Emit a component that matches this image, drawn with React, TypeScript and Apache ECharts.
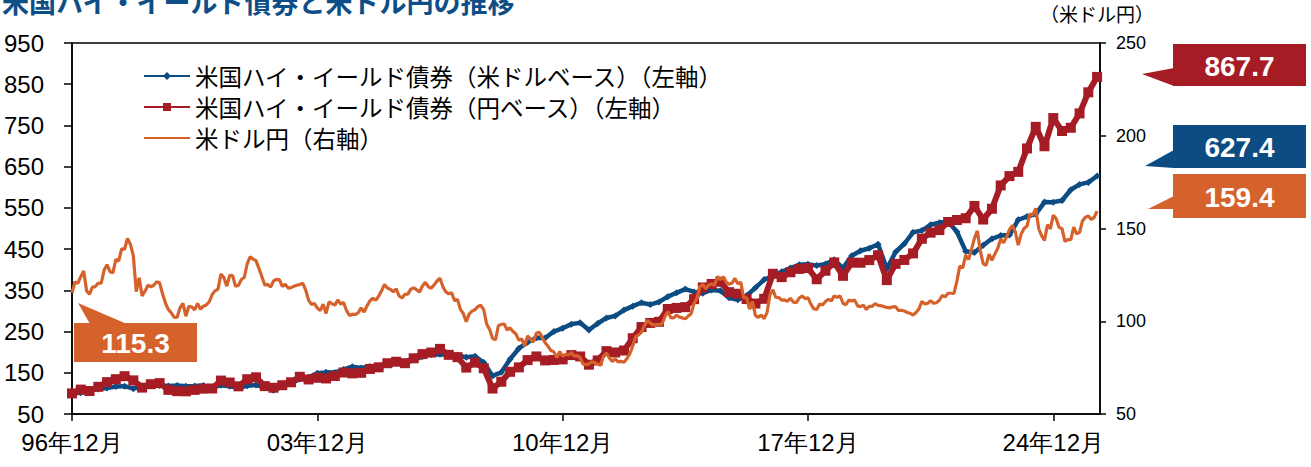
import React, { useEffect, useRef } from "react";
import * as echarts from "echarts";

const titleText = "米国ハイ・イールド債券と米ドル円の推移";
const seriesNames = [
  "米国ハイ・イールド債券（米ドルベース）（左軸）",
  "米国ハイ・イールド債券（円ベース）（左軸）",
  "米ドル円（右軸）",
];
const rightAxisName = "（米ドル円）";
const xTickMonths = [0, 84, 168, 252, 336];
const xTickLabels = ["96年12月", "03年12月", "10年12月", "17年12月", "24年12月"];
const leftTicks = [50, 150, 250, 350, 450, 550, 650, 750, 850, 950];
const rightTicks = [50, 100, 150, 200, 250];

// quarterly, Dec 1996 .. Mar 2026 (month offset = 3 * index)
const hyUsd = [
  100, 101.5, 106.5, 110.5, 112.9,
  116.5, 117.5, 111.5, 116.3,
  118.5, 119, 118, 119.2,
  117.5, 118, 119, 113.2,
  120, 117.5, 113.5, 118.3,
  120.5, 113.5, 107.5, 116.1,
  124, 135, 139, 148.6,
  151, 150.5, 158, 164.8,
  161.5, 165.5, 166.5, 169.2,
  173.5, 174.5, 181, 189.2,
  194.5, 195, 194, 193.4,
  187.5, 190, 175, 142.3,
  151, 183, 209, 224.1,
  235, 234.5, 250, 258.2,
  268, 271.5, 254, 269.5,
  283, 288, 302, 311.6,
  320, 315.5, 322, 334.6,
  344, 353, 346, 343,
  351, 349, 332, 327.2,
  337, 356, 376, 384.5,
  395, 404, 412, 413.3,
  410, 414, 424, 403.8,
  434, 446, 452, 462,
  402, 443, 463, 490.6,
  495, 509, 514, 517.1,
  492, 445, 442, 459.2,
  475, 483, 484, 521.2,
  529, 535, 564, 563.9,
  568, 594, 607, 611.8,
  627.4,
];

const hyJpy = [
  100, 109.2, 105.8, 116.0, 127.3,
  134.4, 141.7, 131.5, 114.0,
  122.3, 124.9, 108.5, 105.4,
  105.0, 108.5, 111.5, 111.9,
  131.1, 126.4, 117.1, 134.4,
  139.0, 117.6, 113.7, 119.8,
  126.9, 140.3, 133.8, 137.9,
  136.2, 142.3, 150.7, 148.6,
  149.9, 159.3, 163.2, 173.2,
  176.8, 173.3, 185.2, 195.3,
  199.1, 208.0, 193.5, 187.9,
  162.6, 174.7, 160.9, 111.8,
  128.3, 152.4, 163.1, 180.8,
  189.6, 180.0, 181.1, 182.5,
  192.9, 189.6, 169.6, 180.0,
  202.5, 199.3, 204.0, 233.8,
  260.9, 270.9, 273.7, 304.7,
  307.3, 309.2, 328.6, 357.0,
  365.3, 370.8, 345.5, 341.7,
  328.8, 318.0, 329.4, 390.2,
  382.0, 393.8, 402.0, 404.0,
  376.9, 397.5, 417.7, 385.2,
  417.1, 417.0, 423.4, 435.2,
  374.8, 414.2, 423.7, 439.5,
  475.2, 490.0, 496.2, 515.8,
  520.6, 524.9, 554.7, 521.8,
  547.9, 604.5, 627.1, 637.4,
  694.2, 746.6, 699.5, 767.9,
  736.5, 744.4, 779.2, 830.4,
  867.7,
];

// monthly, Dec 1996 .. Mar 2026
const usdjpy = [
  115.3,
  121.2, 120.4, 124.0, 127.1, 116.4, 114.6, 118.4, 118.7, 120.6, 120.5, 127.6, 130.5,
  126.7, 126.1, 133.3, 132.5, 139.0, 138.8, 144.7, 141.4, 135.3, 116.0, 123.4, 113.6,
  116.2, 119.4, 118.6, 119.4, 121.3, 120.7, 114.8, 109.8, 106.3, 104.5, 102.1, 102.2,
  107.3, 109.6, 102.7, 108.1, 107.7, 106.1, 109.6, 106.5, 108.1, 108.8, 110.5, 114.4,
  116.4, 117.3, 125.5, 123.6, 118.9, 124.7, 124.6, 118.8, 119.4, 122.5, 123.7, 131.0,
  134.7, 133.5, 132.7, 128.5, 124.1, 119.5, 119.9, 118.4, 121.7, 122.6, 122.4, 118.8,
  119.9, 117.9, 118.1, 118.9, 119.4, 119.8, 120.5, 116.9, 111.4, 109.1, 109.6, 107.1,
  105.8, 109.2, 104.2, 110.4, 109.5, 108.7, 111.5, 109.3, 110.1, 105.8, 103.1, 103.8,
  103.6, 104.6, 107.2, 104.9, 108.2, 110.9, 112.4, 111.3, 113.5, 116.4, 119.8, 117.9,
  117.2, 115.9, 117.5, 113.6, 112.6, 114.5, 114.6, 117.3, 118.0, 117.0, 115.8, 119.0,
  121.0, 118.6, 117.8, 119.6, 121.7, 123.2, 118.6, 115.8, 114.8, 115.3, 111.1, 111.7,
  106.4, 104.1, 99.7, 104.0, 105.5, 106.2, 108.0, 108.6, 106.1, 98.4, 95.5, 90.8,
  89.9, 97.6, 98.3, 98.5, 95.3, 96.4, 94.5, 93.1, 89.8, 90.5, 86.6, 92.1,
  90.3, 88.8, 93.5, 94.1, 91.3, 88.4, 86.5, 84.2, 83.5, 80.4, 83.7, 81.2,
  82.1, 81.8, 83.1, 81.2, 81.5, 80.4, 76.9, 76.7, 77.0, 78.2, 77.6, 76.9,
  76.3, 81.2, 82.9, 80.2, 78.3, 79.8, 78.1, 78.4, 77.9, 79.8, 82.5, 86.6,
  91.7, 92.6, 94.2, 97.5, 100.5, 99.1, 97.9, 98.2, 98.3, 98.4, 102.4, 105.3,
  102.0, 101.8, 103.2, 102.2, 101.8, 101.3, 102.8, 104.1, 109.7, 112.3, 118.6, 119.8,
  117.5, 119.6, 120.1, 119.4, 124.1, 122.4, 123.9, 121.2, 119.9, 120.6, 123.1, 120.2,
  121.0, 112.7, 112.6, 106.5, 110.7, 103.2, 102.1, 103.4, 101.4, 104.8, 114.4, 116.9,
  112.8, 112.8, 111.4, 111.5, 110.8, 112.4, 110.3, 110.0, 112.5, 113.6, 112.2, 112.7,
  109.2, 106.7, 106.3, 109.3, 108.8, 110.7, 111.8, 111.0, 113.7, 112.9, 113.6, 109.7,
  108.9, 111.4, 110.9, 111.4, 108.3, 107.9, 108.7, 106.3, 108.1, 108.0, 109.5, 108.6,
  108.4, 107.9, 107.5, 107.2, 107.8, 107.9, 105.8, 105.9, 105.5, 104.7, 104.3, 103.3,
  104.7, 106.6, 110.7, 109.3, 109.6, 111.1, 109.7, 110.0, 111.3, 113.9, 113.2, 115.1,
  115.1, 115.0, 121.7, 129.8, 128.7, 135.7, 133.2, 138.9, 144.7, 148.7, 138.1, 131.1,
  130.1, 136.2, 132.8, 136.3, 139.3, 144.3, 142.3, 145.5, 149.4, 151.7, 148.2, 141.0,
  147.0, 150.0, 151.3, 157.8, 157.3, 160.9, 150.0, 146.2, 143.6, 152.0, 149.8, 157.2,
  155.2, 150.6, 149.9, 143.1, 144.0, 144.0, 150.8, 147.1, 147.9, 154.1, 156.1, 156.7,
  154.8, 156.0, 159.4,
];

const BLUE = "#0d4c82";
const RED = "#a61c24";
const ORANGE = "#d6622b";
const TITLE_BLUE = "#0e4e87";
const NUM_FONT = "'Liberation Sans Narrow', 'Arial Narrow', 'Liberation Sans', sans-serif";
const JP_FONT = "'Noto Sans CJK JP', sans-serif";

function callout(
  x: number,
  y: number,
  w: number,
  h: number,
  pts: number[][],
  color: string,
  text: string
) {
  return {
    type: "group",
    children: [
      { type: "polygon", shape: { points: pts }, style: { fill: color } },
      { type: "rect", shape: { x, y, width: w, height: h }, style: { fill: color } },
      {
        type: "text",
        x: x + w / 2,
        y: y + h / 2 + 1,
        style: {
          text,
          fill: "#ffffff",
          font: "bold 28px 'Liberation Sans', Arial, sans-serif",
          align: "center",
          verticalAlign: "middle",
        },
      },
    ],
  };
}

export default function App() {
  const ref = useRef<HTMLDivElement>(null);
  useEffect(() => {
    if (!ref.current) return;
    const chart = echarts.init(ref.current, undefined, { renderer: "svg" });
    const last = (a: number[]) => a[a.length - 1];
    const axisLineStyle = { color: "#000", width: 1.5 };
    const option: any = {
      animation: false,
      backgroundColor: "#ffffff",
      grid: {
        left: 72,
        right: 211,
        top: 43,
        bottom: 53,
        show: true,
        borderColor: "#000",
        borderWidth: 1.5,
        containLabel: false,
      },
      legend: {
        orient: "vertical",
        left: 138,
        top: 59,
        itemWidth: 46,
        itemHeight: 10,
        itemGap: 7,
        data: [
          { name: seriesNames[0] },
          { name: seriesNames[1] },
          { name: seriesNames[2], itemStyle: { opacity: 0 } },
        ],
        textStyle: { fontSize: 23.5, color: "#000", fontFamily: JP_FONT, lineHeight: 24 },
      },
      xAxis: {
        type: "value",
        min: 0,
        max: 352,
        axisLine: { show: true, lineStyle: axisLineStyle },
        axisTick: {
          show: true,
          inside: false,
          length: 7,
          lineStyle: axisLineStyle,
          customValues: xTickMonths,
        },
        axisLabel: {
          customValues: xTickMonths,
          formatter: (v: number) => {
            const k = xTickMonths.indexOf(v);
            return k >= 0 ? xTickLabels[k] : "";
          },
          fontSize: 24,
          color: "#000",
          fontFamily: NUM_FONT,
          margin: 16,
        },
        splitLine: { show: false },
      },
      yAxis: [
        {
          type: "value",
          position: "left",
          min: 50,
          max: 950,
          axisLine: { show: true, lineStyle: axisLineStyle },
          axisTick: {
            show: true,
            inside: false,
            length: 8,
            lineStyle: axisLineStyle,
            customValues: leftTicks,
          },
          axisLabel: {
            customValues: leftTicks,
            fontSize: 24,
            color: "#000",
            fontFamily: NUM_FONT,
            margin: 28,
          },
          splitLine: { show: false },
        },
        {
          type: "value",
          position: "right",
          min: 50,
          max: 250,
          interval: 50,
          axisLine: { show: true, lineStyle: axisLineStyle },
          axisTick: { show: true, inside: false, length: 6, lineStyle: axisLineStyle },
          axisLabel: {
            fontSize: 18,
            color: "#000",
            fontFamily: NUM_FONT,
            margin: 16,
          },
          splitLine: { show: false },
        },
      ],
      series: [
        {
          name: seriesNames[0],
          type: "line",
          yAxisIndex: 0,
          data: hyUsd.map((v, i) => [i * 3, v]),
          symbol: "diamond",
          symbolSize: 7,
          lineStyle: { color: BLUE, width: 4.5 },
          itemStyle: { color: BLUE },
          z: 2,
        },
        {
          name: seriesNames[1],
          type: "line",
          yAxisIndex: 0,
          data: hyJpy.map((v, i) => [i * 3, v]),
          symbol: "rect",
          symbolSize: 10,
          lineStyle: { color: RED, width: 6 },
          itemStyle: { color: RED },
          z: 3,
        },
        {
          name: seriesNames[2],
          type: "line",
          yAxisIndex: 1,
          data: usdjpy.map((v, i) => [i, v]),
          symbol: "none",
          lineStyle: { color: ORANGE, width: 3.2 },
          itemStyle: { color: ORANGE },
          z: 4,
        },
      ],
      graphic: [
        {
          type: "text",
          left: 2,
          top: -12,
          style: { text: titleText, fill: TITLE_BLUE, font: `bold 27px ${JP_FONT}` },
        },
        {
          type: "text",
          left: 1040,
          top: 4,
          style: { text: rightAxisName, fill: "#000", font: `19px ${JP_FONT}` },
        },
        callout(1173, 44, 133, 42, [[1142, 74], [1174, 68], [1174, 86]], RED, last(hyJpy).toFixed(1)),
        callout(1173, 125, 133, 43, [[1145, 166], [1174, 150], [1174, 168]], BLUE, last(hyUsd).toFixed(1)),
        callout(1173, 174, 133, 44, [[1148, 209], [1174, 196], [1174, 209]], ORANGE, last(usdjpy).toFixed(1)),
        callout(74, 323, 123, 39, [[78, 303], [90, 324], [127, 324]], ORANGE, usdjpy[0].toFixed(1)),
      ],
    };
    chart.setOption(option);
    return () => chart.dispose();
  }, []);
  return (
    <div
      ref={ref}
      style={{ position: "fixed", left: 0, top: 0, width: 1311, height: 467, background: "#fff" }}
    />
  );
}
